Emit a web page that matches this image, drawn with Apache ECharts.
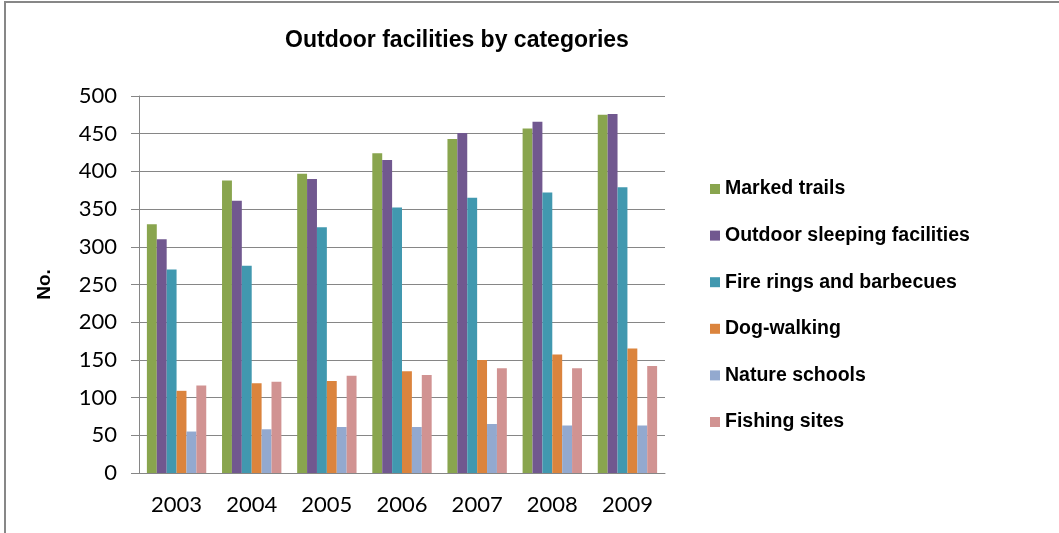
<!DOCTYPE html>
<html>
<head>
<meta charset="utf-8">
<script src="https://cdn.jsdelivr.net/npm/echarts@6/dist/echarts.min.js"></script>
<style>
  html, body { margin: 0; padding: 0; background: #fff; }
  #chart { width: 1059px; height: 533px; }
</style>
</head>
<body>
<div id="chart"></div>
<script>
// years on the x axis
var years = ['2003', '2004', '2005', '2006', '2007', '2008', '2009'];

// one array per facility type
var markedTrails = [330, 388, 397, 424, 443, 457, 475];
var sleeping = [310, 361, 390, 415, 451, 466, 476];
var fireRings = [270, 275, 326, 352, 365, 372, 379];
var dogWalking = [109, 119, 122, 135, 150, 157, 165];
var natureSchools = [55, 58, 61, 61, 65, 63, 63];
var fishingSites = [116, 121, 129, 130, 139, 139, 142];

var seriesNames = ['Marked trails', 'Outdoor sleeping facilities', 'Fire rings and barbecues',
  'Dog-walking', 'Nature schools', 'Fishing sites'];
var seriesData = [markedTrails, sleeping, fireRings, dogWalking, natureSchools, fishingSites];
var colors = ['#89A54E', '#71588F', '#4198AF', '#DB843D', '#93A9CF', '#D19392'];

var chart = echarts.init(document.getElementById('chart'));

var series = seriesNames.map(function(name, i) {
  return {
    name: name,
    type: 'bar',
    data: seriesData[i],
    barGap: '0%',
    barCategoryGap: '21%',
    itemStyle: { color: colors[i] }
  };
});

chart.setOption({
  animation: false,
  color: colors,
  title: {
    text: 'Outdoor facilities by categories',
    left: 452,
    textAlign: 'center',
    top: 24,
    textStyle: { fontFamily: 'Liberation Sans', fontSize: 23, fontWeight: 'bold', color: '#000' }
  },
  graphic: [{
    type: 'rect',
    shape: { x: 5, y: 2, width: 1200, height: 700 },
    style: { fill: 'none', stroke: '#878787', lineWidth: 2 }
  }],
  legend: {
    orient: 'vertical',
    left: 705,
    top: 174,
    itemWidth: 10,
    itemHeight: 10,
    itemGap: 26.6,
    icon: 'rect',
    textStyle: { fontFamily: 'Liberation Sans', fontSize: 19.5, fontWeight: 'bold', color: '#000', lineHeight: 20 },
    data: seriesNames
  },
  grid: { left: 139, right: 394, top: 96, bottom: 60 },
  xAxis: {
    type: 'category',
    data: years,
    axisLine: { lineStyle: { color: '#868686', width: 1 } },
    axisTick: { show: false },
    axisLabel: { fontFamily: 'Lato', fontSize: 22, color: '#000', margin: 21 }
  },
  yAxis: {
    type: 'value',
    min: 0,
    max: 500,
    interval: 50,
    name: 'No.',
    nameLocation: 'middle',
    nameGap: 85,
    nameTextStyle: { fontFamily: 'Liberation Sans', fontSize: 19, fontWeight: 'bold', color: '#000' },
    axisLine: { show: true, lineStyle: { color: '#868686' } },
    axisTick: { show: true, length: 8, lineStyle: { color: '#868686' } },
    splitLine: { lineStyle: { color: '#868686', width: 1 } },
    axisLabel: { fontFamily: 'Lato', fontSize: 22, color: '#000', margin: 22 }
  },
  series: series
});
</script>
</body>
</html>
